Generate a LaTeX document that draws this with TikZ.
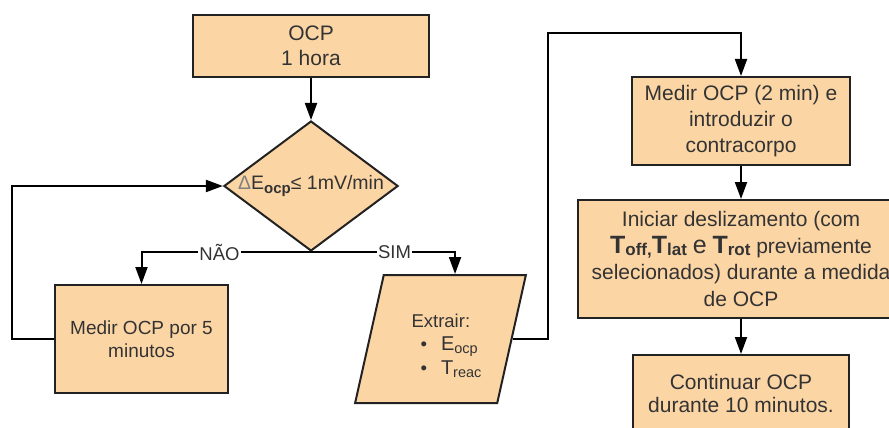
\documentclass[tikz,border=0pt]{standalone}
\usepackage{fontspec}
\setmainfont{Liberation Sans}
\usetikzlibrary{shapes.geometric,arrows.meta,calc}

\definecolor{boxfill}{RGB}{252,213,165}
\definecolor{boxline}{RGB}{34,34,34}
\definecolor{textgray}{RGB}{51,51,51}

% lowered index text: size, amount lowered, text
\newcommand{\lowidx}[3]{\raisebox{-#2}{\fontsize{#1}{#1}\selectfont #3}}
% bold T with bold index
\newcommand{\boldT}[1]{{\fontsize{25}{26}\selectfont\textbf{T}}\lowidx{17}{2.5pt}{\textbf{#1}}}

\tikzset{
	every picture/.style={line width=2pt},
	proc/.style={draw=boxline, fill=boxfill, rectangle, align=center, inner sep=0pt, text=textgray},
	decision/.style={draw=boxline, fill=boxfill, diamond, aspect=1.34, align=center, inner sep=0pt, text=textgray},
	inout/.style={draw=boxline, fill=boxfill, trapezium, trapezium left angle=75, trapezium right angle=105,
		trapezium stretches=true, align=left, inner sep=0pt, text=textgray},
	flow/.style={draw=black, -{Triangle[length=17pt,width=12pt]}},
	lbl/.style={fill=white, inner sep=1pt, text=textgray, font=\fontsize{18.5}{22}\selectfont}
}

\begin{document}
\begin{tikzpicture}[x=1pt,y=1pt,yscale=-1]
	\useasboundingbox (0,0) rectangle (889,428);
	\clip (0,0) rectangle (889,428);

	%Shape: start box
	\node[proc, minimum width=236, minimum height=62, font=\fontsize{21}{25}\selectfont] (ocp) at (311,46) {OCP\\1 hora};
	%Shape: decision
	\node[decision, minimum width=171, minimum height=128, font=\fontsize{19.5}{23}\selectfont] (dec) at (311,186)
		{{\color{gray}Δ}E\lowidx{15}{4pt}{\textbf{ocp}}≤ 1mV/min};
	%Shape: left loop box
	\node[proc, minimum width=173, minimum height=108, font=\fontsize{19}{22.5}\selectfont] (med5) at (141.5,339)
		{Medir OCP por 5\\minutos};
	%Shape: data (parallelogram)
	\node[inout, minimum width=171, minimum height=128, font=\fontsize{18.5}{23.5}\selectfont] (extr) at (440.5,339)
		{\rule{0pt}{27pt}\hspace*{12pt}Extrair:\\
		\hspace*{21pt}\textbullet\hspace{14pt}{\fontsize{20}{20}\selectfont E}\lowidx{14.5}{3pt}{ocp}\\
		\hspace*{21pt}\textbullet\hspace{14pt}{\fontsize{20}{20}\selectfont T}\lowidx{14.5}{3pt}{reac}};
	%Shape: right column
	\node[proc, minimum width=218, minimum height=88, font=\fontsize{21}{26}\selectfont] (med) at (741,121)
		{Medir OCP (2 min) e\\introduzir o\\contracorpo};
	\node[proc, minimum width=326, minimum height=118, font=\fontsize{21}{26.5}\selectfont] (ini) at (741,259)
		{Iniciar deslizamento (com\\
		\boldT{off,}\boldT{lat} {\fontsize{25}{26}\selectfont e} \boldT{rot} previamente\\
		selecionados) durante a medida\\de OCP};
	\node[proc, minimum width=216, minimum height=77, font=\fontsize{21}{23}\selectfont] (cont) at (741,393.5)
		{Continuar OCP\\durante 10 minutos.};

	% connection points
	\coordinate (extrtop) at ($(extr.top left corner)!0.5!(extr.top right corner)$);
	\coordinate (back) at (12,339);
	\coordinate (up) at (548,33);

	% Arrows
	\draw[flow] (ocp) -- (dec);
	\draw[flow] (dec.south) -| node[lbl, pos=0.27] {NÃO} (med5.north);
	\draw[flow] (dec.south) -| node[lbl, pos=0.29] {SIM} (extrtop);
	\draw[flow] (med5.west) -- (back) |- (dec.west);
	\draw[flow] (extr.east) -| (up) -| (med.north);
	\draw[flow] (med) -- (ini);
	\draw[flow] (ini) -- (cont);

\end{tikzpicture}
\end{document}
